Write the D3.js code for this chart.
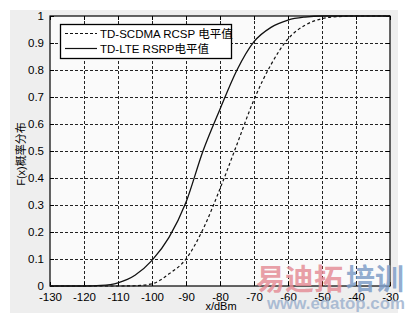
<!DOCTYPE html>
<html>
<head>
<meta charset="utf-8">
<script src="https://cdn.jsdelivr.net/npm/d3@7"></script>
<style>
  body { margin: 0; background: #fff; }
  svg { display: block; font-family: "Liberation Sans", "Noto Sans CJK SC", sans-serif; }
</style>
</head>
<body>
<svg id="chart" width="410" height="313"></svg>
<script>
// x grid of the two CDF curves (dBm)
var xValues = [-130, -125, -120, -115, -110, -105, -100, -95, -90, -85, -80,
               -75, -70, -65, -60, -55, -50, -45, -40, -35, -30];
// TD-SCDMA RCSP (dashed)
var scdmaValues = [0, 0, 0, 0, 0, 0.001, 0.008, 0.045, 0.10, 0.21, 0.36,
                   0.525, 0.69, 0.82, 0.915, 0.966, 0.99, 0.998, 1, 1, 1];
// TD-LTE RSRP (solid)
var lteValues = [0, 0, 0, 0.002, 0.012, 0.04, 0.095, 0.18, 0.31, 0.50, 0.655,
                 0.80, 0.905, 0.958, 0.985, 0.996, 1, 1, 1, 1, 1];
var xTicks = [-130, -120, -110, -100, -90, -80, -70, -60, -50, -40, -30];
var yTicks = [0, 0.1, 0.2, 0.3, 0.4, 0.5, 0.6, 0.7, 0.8, 0.9, 1];
var legendLabels = ["TD-SCDMA RCSP 电平值", "TD-LTE RSRP电平值"];

var svg = d3.select("#chart");

// figure + axes backgrounds
svg.append("rect").attr("x", 10).attr("y", 10).attr("width", 388).attr("height", 303)
    .attr("fill", "#eeeeee");

var pLeft = 50, pTop = 16, pRight = 390, pBottom = 286;
var x = d3.scaleLinear().domain([-130, -30]).range([pLeft, pRight]);
var y = d3.scaleLinear().domain([0, 1]).range([pBottom, pTop]);

svg.append("rect").attr("x", pLeft).attr("y", pTop)
    .attr("width", pRight - pLeft).attr("height", pBottom - pTop)
    .attr("fill", "#fafafa");

// grid
var grid = svg.append("g").attr("stroke", "#222").attr("stroke-width", 1)
    .attr("stroke-dasharray", "3,2");
grid.selectAll(".vg").data(xTicks.slice(1, -1)).enter().append("line")
    .attr("x1", function(d) { return Math.round(x(d)) + 0.5; })
    .attr("x2", function(d) { return Math.round(x(d)) + 0.5; })
    .attr("y1", pTop).attr("y2", pBottom);
grid.selectAll(".hg").data(yTicks.slice(1, -1)).enter().append("line")
    .attr("y1", function(d) { return Math.round(y(d)) + 0.5; })
    .attr("y2", function(d) { return Math.round(y(d)) + 0.5; })
    .attr("x1", pLeft).attr("x2", pRight);

// axes (MATLAB style box with inward ticks)
var xAxis = d3.axisBottom(x).tickValues(xTicks).tickSize(-4).tickPadding(7)
    .tickFormat(function(d) { return String(d); });
var yAxis = d3.axisLeft(y).tickValues(yTicks).tickSize(-4).tickPadding(6)
    .tickFormat(function(d) { return d === 0 || d === 1 ? String(d) : d.toFixed(1); });

function styleAxis(g) {
    g.select(".domain").remove();
    g.selectAll("line").attr("stroke", "#000");
    g.selectAll("text").attr("fill", "#000").attr("font-size", 11.5);
}

svg.append("g").attr("transform", "translate(0," + pBottom + ")").call(xAxis).call(styleAxis);
svg.append("g").attr("transform", "translate(" + pLeft + ",0)").call(yAxis).call(styleAxis);
svg.append("g").attr("transform", "translate(0," + pTop + ")")
    .call(d3.axisTop(x).tickValues(xTicks).tickSize(-4).tickFormat(""))
    .call(styleAxis);
svg.append("g").attr("transform", "translate(" + pRight + ",0)")
    .call(d3.axisRight(y).tickValues(yTicks).tickSize(-4).tickFormat(""))
    .call(styleAxis);

svg.append("rect").attr("x", pLeft).attr("y", pTop)
    .attr("width", pRight - pLeft).attr("height", pBottom - pTop)
    .attr("fill", "none").attr("stroke", "#000").attr("stroke-width", 1.2);

// curves
var line = d3.line()
    .x(function(d) { return x(d[0]); })
    .y(function(d) { return y(d[1]); })
    .curve(d3.curveMonotoneX);

svg.append("path").datum(d3.zip(xValues, scdmaValues))
    .attr("d", line).attr("fill", "none").attr("stroke", "#111")
    .attr("stroke-width", 1.2).attr("stroke-dasharray", "3,2.5");
svg.append("path").datum(d3.zip(xValues, lteValues))
    .attr("d", line).attr("fill", "none").attr("stroke", "#111")
    .attr("stroke-width", 1.3);

// legend
var legend = svg.append("g");
legend.append("rect").attr("x", 60.5).attr("y", 24.5).attr("width", 171).attr("height", 34)
    .attr("fill", "#fff").attr("stroke", "#000").attr("stroke-width", 1.3);
legendLabels.forEach(function(label, i) {
    var ly = 33.5 + i * 15;
    legend.append("line").attr("x1", 65).attr("x2", 97).attr("y1", ly).attr("y2", ly)
        .attr("stroke", "#111").attr("stroke-width", 1.2)
        .attr("stroke-dasharray", i === 0 ? "3,2" : null);
    legend.append("text").attr("x", 100).attr("y", ly + 4)
        .attr("font-size", 11.5).attr("fill", "#000").text(label);
});

// axis labels
svg.append("text").attr("x", 221).attr("y", 310).attr("text-anchor", "middle")
    .attr("font-size", 11).text("x/dBm");
svg.append("text").attr("transform", "translate(25,154) rotate(-90)")
    .attr("text-anchor", "middle").attr("font-size", 11).text("F(x)概率分布");

// watermark
var wm = svg.append("g").attr("font-weight", "bold");
wm.append("text").attr("x", 256).attr("y", 290).attr("font-size", 29)
    .attr("fill", "#e58f98").attr("fill-opacity", 0.85)
    .attr("font-family", "Noto Sans CJK SC").text("易迪拓");
wm.append("text").attr("x", 346).attr("y", 290).attr("font-size", 29)
    .attr("fill", "#7f9ec8").attr("fill-opacity", 0.85)
    .attr("font-family", "Noto Sans CJK SC").text("培训");
wm.append("text").attr("x", 267).attr("y", 309).attr("font-size", 16)
    .attr("fill", "#9fb3cf").attr("fill-opacity", 0.85)
    .attr("textLength", 138).attr("lengthAdjust", "spacingAndGlyphs")
    .text("www.edatop.com");
</script>
</body>
</html>
